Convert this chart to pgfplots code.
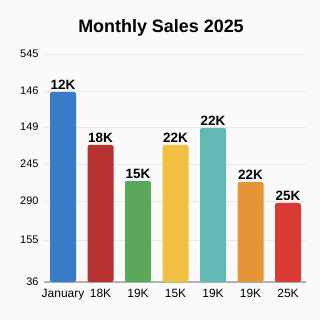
\documentclass[border=0pt]{standalone}
\usepackage{pgfplots}
\pgfplotsset{compat=1.18}
\usepackage{fontspec}
\setmainfont{Liberation Sans}
\definecolor{bg}{HTML}{FAFAFA}
\definecolor{c1}{HTML}{3A7BC8}
\definecolor{c2}{HTML}{B83232}
\definecolor{c3}{HTML}{5BA85A}
\definecolor{c4}{HTML}{F2C040}
\definecolor{c5}{HTML}{62B9B3}
\definecolor{c6}{HTML}{E59535}
\definecolor{c7}{HTML}{D93A34}
\begin{document}
\begin{tikzpicture}[x=1bp,y=1bp]
\path[fill=bg] (0,0) rectangle (320,320);
\node[font=\bfseries\fontsize{18}{18}\selectfont] at (161,292) {Monthly Sales 2025};
\begin{axis}[at={(44bp,38bp)}, anchor=south west, scale only axis,
  width=262bp, height=228bp,
  xmin=-0.507, xmax=6.48, ymin=0, ymax=228,
  ytick={0,42,81,118,155,191,228},
  yticklabels={36,155,290,245,149,146,545},
  xtick={0,...,6},
  xticklabels={January,18K,19K,15K,19K,19K,25K},
  axis x line*=bottom, axis y line*=left,
  y axis line style={draw=none},
  x axis line style={draw=gray!60, line width=1.5bp},
  major tick length=0pt,
  ymajorgrids, grid style={gray!18, line width=0.7bp},
  yticklabel style={font=\fontsize{11}{11}\selectfont, xshift=-2bp},
  xticklabel style={font=\fontsize{12}{12}\selectfont, yshift=-4bp},
  ybar, bar width=26bp, bar shift=0pt,
  nodes near coords, point meta=explicit symbolic,
  every node near coord/.style={font=\bfseries\fontsize{13.5}{13.5}\selectfont, black, yshift=-1bp},
  clip=false,
]
\addplot[fill=c1, draw=none, rounded corners=2bp] coordinates {(0,190) [12K]};
\addplot[fill=c2, draw=none, rounded corners=2bp] coordinates {(1,137) [18K]};
\addplot[fill=c3, draw=none, rounded corners=2bp] coordinates {(2,101) [15K]};
\addplot[fill=c4, draw=none, rounded corners=2bp] coordinates {(3,137) [22K]};
\addplot[fill=c5, draw=none, rounded corners=2bp] coordinates {(4,154) [22K]};
\addplot[fill=c6, draw=none, rounded corners=2bp] coordinates {(5,100) [22K]};
\addplot[fill=c7, draw=none, rounded corners=2bp] coordinates {(6,79) [25K]};
\end{axis}
\end{tikzpicture}
\end{document}
